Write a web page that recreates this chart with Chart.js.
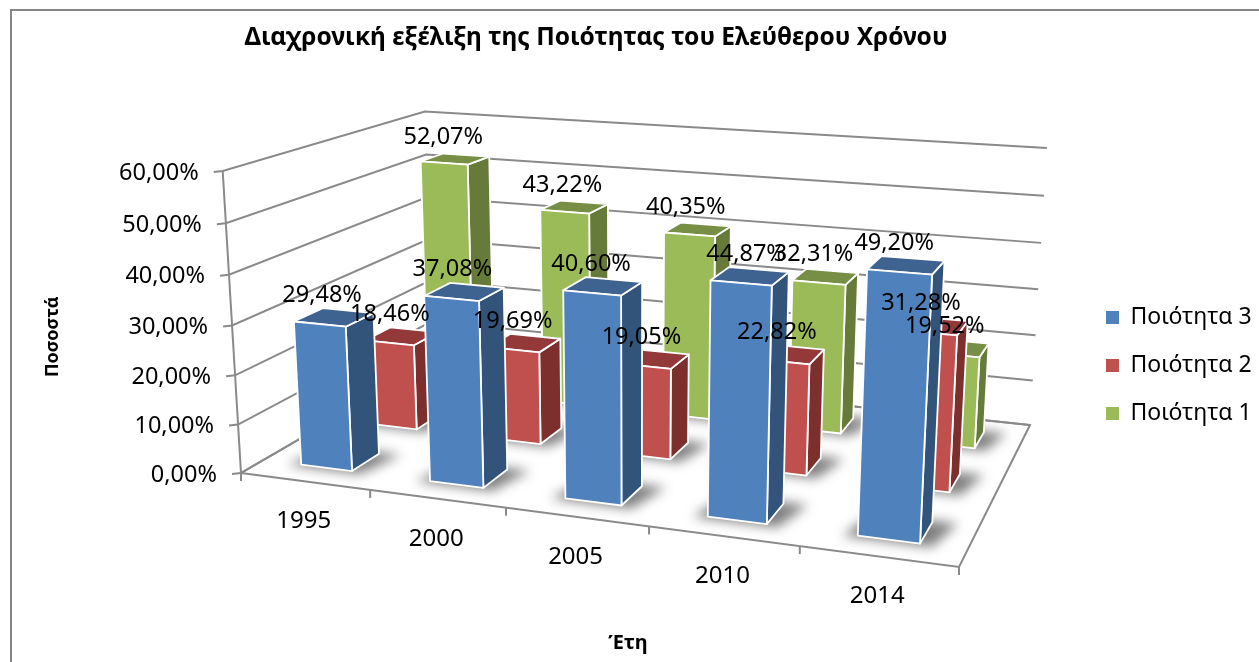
<!DOCTYPE html>
<html><head><meta charset="utf-8">
<style>html,body{margin:0;padding:0;background:#fff}canvas{display:block}</style>
<script src="https://cdn.jsdelivr.net/npm/chart.js@4/dist/chart.umd.js"></script>
</head><body><canvas id="c" width="1259" height="662"></canvas>
<script>
const categories = ['1995','2000','2005','2010','2014'];
const seriesNames = ['Ποιότητα 3','Ποιότητα 2','Ποιότητα 1'];
const quality3 = [29.48,37.08,40.60,44.87,49.20];
const quality2 = [18.46,19.69,19.05,22.82,31.28];
const quality1 = [52.07,43.22,40.35,32.31,19.52];
const FONT = '"Noto Sans", sans-serif';
const GRAY = '#8a8a8a';
const faces = [
  {front:'#4F81BD',side:'#32537A',top:'#3E6390'},
  {front:'#C0504D',side:'#7D2F2D',top:'#93393A'},
  {front:'#9BBB59',side:'#667A3A',top:'#768F44'}
];
// Perspective camera of the 3D box (projection config, not data):
// floor corners, the vanishing point of the verticals and the height weight.
const FLOOR = [[241,473],[959,567],[1030,425],[432.5,362]];
const VANISH = [633,6943], HEIGHT_WEIGHT = -0.0446;
function homography(q){
  const [[x0,y0],[x1,y1],[x2,y2],[x3,y3]] = q;
  const dx1=x1-x2,dx2=x3-x2,dx3=x0-x1+x2-x3,dy1=y1-y2,dy2=y3-y2,dy3=y0-y1+y2-y3;
  const den=dx1*dy2-dx2*dy1, g=(dx3*dy2-dx2*dy3)/den, h=(dx1*dy3-dx3*dy1)/den;
  const a=x1-x0+g*x1,b=x3-x0+h*x3,d=y1-y0+g*y1,e=y3-y0+h*y3;
  return (u,v)=>[a*u+b*v+x0,d*u+e*v+y0,g*u+h*v+1];
}
const floorH = homography(FLOOR);
function project(s,d,h){
  const p=floorH(s,d), k=h*HEIGHT_WEIGHT;
  const w=p[2]+k;
  return [(p[0]+k*VANISH[0])/w,(p[1]+k*VANISH[1])/w];
}
function poly(ctx,pts){ctx.beginPath();pts.forEach((p,i)=>i?ctx.lineTo(p[0],p[1]):ctx.moveTo(p[0],p[1]));ctx.closePath();}
const DEPTH_CELLS = seriesNames.length, BAR_RATIO = 0.4;

const threeD = {
  id:'threeD',
  afterLayout(chart){
    const t=chart.titleBlock; t.left=0; t.right=596*2;
    const l=chart.legend, pad=l.options.labels.padding;
    l.left=1106-pad; l.right=1259; l.top=306-pad; l.bottom=662;
  },
  beforeDraw(chart){
    const ctx=chart.ctx, area=chart.chartArea, xs=chart.scales.x, ys=chart.scales.y;
    ctx.save();
    ctx.fillStyle='#fff';ctx.fillRect(0,0,chart.width,chart.height);
    ctx.strokeStyle='#868686';ctx.lineWidth=2;ctx.strokeRect(11,10,1400,800);
    ctx.restore();
    // place native tick labels on the projected axes
    ys.getLabelItems(area).forEach((it,i)=>{
      const h=(area.bottom-ys.getPixelForValue(ys.ticks[i].value))/area.height;
      const p=project(0,0,h);
      it.options.translation=[p[0]-24,p[1]+2];
      it.options.textAlign='right';
    });
    xs.getLabelItems(area).forEach((it,i)=>{
      const s=(xs.getPixelForTick(i)-area.left)/area.width;
      const p=project(s,0,0);
      it.options.translation=[p[0]-1,p[1]+40];
      it.options.textAlign='center';
      it.options.textBaseline='middle';
      it.textOffset=0;
    });
    const shift=(sc,dx,dy)=>{
      sc.drawTitle=function(){const c=this.ctx;c.save();c.translate(dx,dy);
        Object.getPrototypeOf(this).drawTitle.call(this);c.restore();};
    };
    shift(ys,12,15); shift(xs,28,-7);
  },
  beforeDatasetsDraw(chart){
    const ctx=chart.ctx, area=chart.chartArea, xs=chart.scales.x, ys=chart.scales.y;
    ctx.save();
    // walls: one line per value tick
    ctx.strokeStyle=GRAY;ctx.lineWidth=2;ctx.lineJoin='miter';
    ys.ticks.forEach(t=>{
      const h=(area.bottom-ys.getPixelForValue(t.value))/area.height;
      const a=project(0,0,h),b=project(0,1,h),c=project(1,1,h);
      ctx.beginPath();ctx.moveTo(a[0]-9,a[1]+1);ctx.lineTo(a[0],a[1]);ctx.lineTo(b[0],b[1]);ctx.lineTo(c[0],c[1]);ctx.stroke();
    });
    let a=project(0,0,0),b=project(0,0,1);
    ctx.beginPath();ctx.moveTo(a[0],a[1]);ctx.lineTo(b[0],b[1]);ctx.stroke();
    // floor
    poly(ctx,[project(0,0,0),project(1,0,0),project(1,1,0),project(0,1,0)]);ctx.stroke();
    // category ticks on the front edge
    for(let i=0;i<=categories.length;i++){
      const p=project(i/categories.length,0,0);
      ctx.beginPath();ctx.moveTo(p[0],p[1]);ctx.lineTo(p[0],p[1]+8);ctx.stroke();
    }
    // bars, back row first
    for(let di=chart.data.datasets.length-1;di>=0;di--){
      const meta=chart.getDatasetMeta(di), col=faces[di];
      const d0=(di+0.5)/DEPTH_CELLS-BAR_RATIO/DEPTH_CELLS/2, d1=d0+BAR_RATIO/DEPTH_CELLS;
      meta.data.forEach(el=>{
        const s0=(el.x-el.width/2-area.left)/area.width, s1=(el.x+el.width/2-area.left)/area.width;
        const h=(el.base-el.y)/area.height;
        // soft floor shadow
        ctx.save();
        ctx.filter='blur(6px)';ctx.fillStyle='rgba(50,50,50,0.62)';
        poly(ctx,[project(s0-0.018,d0-0.012,0),project(s1+0.016,d0-0.012,0),project(s1+0.032,d1+0.01,0),project(s0,d1+0.01,0)]);
        ctx.fill();
        ctx.restore();
        const fl=project(s0,d0,0),fr=project(s1,d0,0),br=project(s1,d1,0);
        const tl=project(s0,d0,h),tr=project(s1,d0,h),tbr=project(s1,d1,h),tbl=project(s0,d1,h);
        ctx.strokeStyle='#fff';ctx.lineWidth=1.8;ctx.lineJoin='round';
        ctx.fillStyle=col.side;poly(ctx,[fr,br,tbr,tr]);ctx.fill();ctx.stroke();
        ctx.fillStyle=col.top;poly(ctx,[tl,tr,tbr,tbl]);ctx.fill();ctx.stroke();
        ctx.fillStyle=col.front;poly(ctx,[fl,fr,tr,tl]);ctx.fill();ctx.stroke();
      });
    }
    ctx.restore();
    return false; // the 3D boxes above replace the flat bars
  },
  afterDraw(chart){
    const ctx=chart.ctx, area=chart.chartArea;
    ctx.save();
    ctx.fillStyle='#000';ctx.font='23.5px '+FONT;ctx.textAlign='center';ctx.textBaseline='middle';
    chart.data.datasets.forEach((ds,di)=>{
      const meta=chart.getDatasetMeta(di);
      const d=(di+0.5)/DEPTH_CELLS;
      meta.data.forEach((el,i)=>{
        const p=project((el.x-area.left)/area.width,d,(el.base-el.y)/area.height);
        const nudge=(di===0&&i===3)?8:0; // this label sits further right in the reference
        ctx.fillText(ds.data[i].toFixed(2).replace('.',',')+'%',p[0]-12+nudge,p[1]-22);
      });
    });
    ctx.restore();
  }
};

new Chart(document.getElementById('c'),{
  type:'bar',
  data:{labels:categories,datasets:[
    {label:seriesNames[0],data:quality3,backgroundColor:faces[0].front},
    {label:seriesNames[1],data:quality2,backgroundColor:faces[1].front},
    {label:seriesNames[2],data:quality1,backgroundColor:faces[2].front}
  ]},
  plugins:[threeD],
  options:{
    responsive:false,animation:false,
    layout:{padding:{left:30,right:300,top:0,bottom:0}},
    datasets:{bar:{grouped:false,barPercentage:BAR_RATIO,categoryPercentage:1,borderWidth:0}},
    plugins:{
      tooltip:{enabled:false},
      title:{display:true,text:'Διαχρονική εξέλιξη της Ποιότητας του Ελεύθερου Χρόνου',
        color:'#000',font:{family:FONT,size:24.5,weight:'bold'},padding:{top:23,bottom:118}},
      legend:{position:'chartArea',align:'start',labels:{color:'#000',font:{family:FONT,size:23},boxWidth:13,boxHeight:13,padding:25}}
    },
    scales:{
      x:{grid:{display:false},border:{display:false},
        afterFit(s){s.height=189;},
        ticks:{color:'#000',font:{family:FONT,size:24},maxRotation:0,autoSkip:false},
        title:{display:true,text:'Έτη',color:'#000',font:{family:FONT,size:20,weight:'bold'},padding:0}},
      y:{min:0,max:60,grid:{display:false},border:{display:false},
        afterFit(s){s.width=211;},
        ticks:{stepSize:10,color:'#000',font:{family:FONT,size:23.5},
          callback:v=>v.toFixed(2).replace('.',',')+'%'},
        title:{display:true,text:'Ποσοστά',color:'#000',font:{family:FONT,size:18,weight:'bold'},padding:0}}
    }
  }
});
</script></body></html>
